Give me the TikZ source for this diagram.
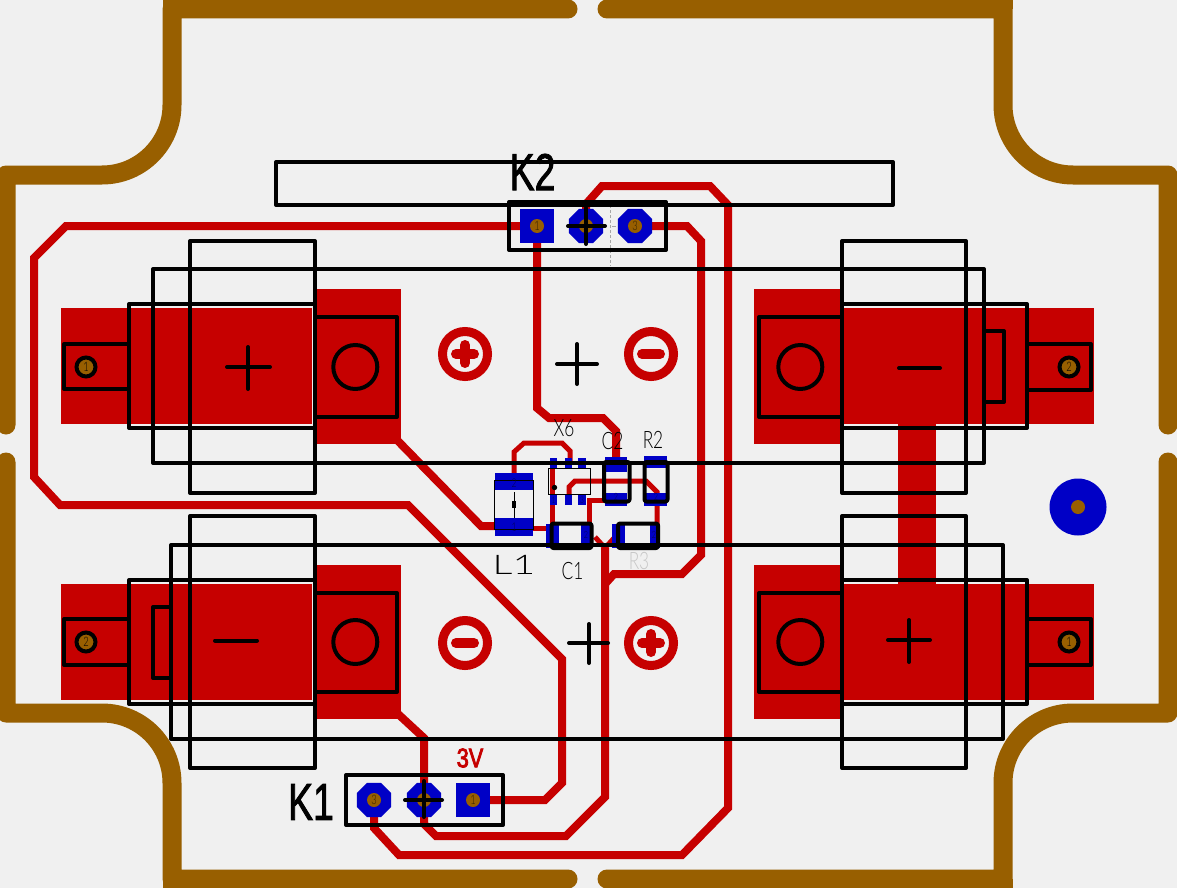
\documentclass[tikz,border=0pt]{standalone}
\usepackage{fontspec}
\setmainfont{Liberation Sans}
\newfontfamily\pcbfont[FakeStretch=0.72]{Lato Light}
\newfontfamily\pcbwide[FakeStretch=1.45]{Lato Light}
\newfontfamily\pcbbold[FakeStretch=0.72,FakeBold=1.6]{Liberation Sans}
\newfontfamily\pcbheavy[FakeStretch=0.8,FakeBold=3]{Liberation Sans}
\usetikzlibrary{shapes.geometric}
\definecolor{boardbg}{HTML}{F0F0F0}
\definecolor{copper}{HTML}{C60000}
\definecolor{padblue}{HTML}{0000C6}
\definecolor{edge}{HTML}{985F00}
\tikzset{
  edgeline/.style={draw=edge,line width=19pt,line cap=round,line join=round},
  trace/.style={draw=copper,line width=8pt,line join=miter},
  thintrace/.style={draw=copper,line width=5pt,line join=miter},
  silk/.style={draw=black,line width=4pt,line join=round,line cap=round},
  fine/.style={draw=black,line width=1pt},
  squarepad/.style={fill=padblue,draw=none,minimum size=34pt,inner sep=0pt,shape=rectangle},
  octpad/.style={fill=padblue,draw=none,minimum size=37pt,inner sep=0pt,shape=regular polygon,regular polygon sides=8},
  roundpad/.style={fill=padblue,draw=none,minimum size=57pt,inner sep=0pt,shape=circle},
  drill/.style={fill=edge,draw=none,minimum size=14pt,inner sep=0pt,shape=circle,text=black!70!edge,font=\pcbfont\fontsize{13}{13}\selectfont},
  ringdrill/.style={fill=edge,draw=black,line width=4pt,minimum size=19pt,inner sep=0pt,shape=circle,text=black,font=\pcbfont\fontsize{13}{13}\selectfont},
  txtlabel/.style={inner sep=0pt,text=black,font=\pcbfont\fontsize{24}{24}\selectfont},
  biglabel/.style={inner sep=0pt,text=black,font=\pcbbold\fontsize{52}{52}\selectfont},
  pinno/.style={inner sep=0pt,text=black!60!padblue,font=\pcbfont\fontsize{12}{12}\selectfont},
  symring/.style={draw=copper,line width=9pt,fill=none},
  symbar/.style={draw=copper,line width=10pt,line cap=round},
}
\newcommand\slkbox[4]{\draw[silk] (#1,#2) rectangle (#3,#4);}
\newcommand\rbox[5]{\fill[#1] (#2,#3) rectangle (#4,#5);}
\begin{document}
\begin{tikzpicture}[x=1pt,y=-1pt]
\useasboundingbox (0,0) rectangle (1177,888);
\fill[boardbg] (0,0) rectangle (1177,888);
\begin{scope}
\clip (0,0) rectangle (1177,888);
% board edge
\draw[edgeline] (568,9) -- (172,9) -- (172,105) arc[start angle=0,end angle=90,radius=70] -- (6,175) -- (6,425);
\draw[edgeline] (607,9) -- (1003,9) -- (1003,105) arc[start angle=180,end angle=90,radius=70] -- (1168,175) -- (1168,425);
\draw[edgeline] (6,462) -- (6,713) -- (102,713) arc[start angle=-90,end angle=0,radius=70] -- (172,879) -- (568,879);
\draw[edgeline] (1168,462) -- (1168,713) -- (1073,713) arc[start angle=-90,end angle=-180,radius=70] -- (1003,879) -- (607,879);
\rbox{edge}{162.5}{0}{172}{9}
\rbox{edge}{1003}{0}{1012.5}{9}
\rbox{edge}{162.5}{879}{172}{888}
\rbox{edge}{1003}{879}{1012.5}{888}
\end{scope}
% copper pours
\rbox{copper}{61}{308}{312}{424}
\rbox{copper}{317}{289}{401}{444}
\rbox{copper}{61}{584}{312}{700}
\rbox{copper}{317}{565}{401}{719}
\rbox{copper}{754}{289}{840}{444}
\rbox{copper}{844}{308}{1094}{424}
\rbox{copper}{754}{565}{840}{719}
\rbox{copper}{844}{584}{1094}{700}
\rbox{copper}{898}{424}{936}{584}
% connection points
\coordinate (k2a) at (537,226);
\coordinate (k2b) at (586,226);
\coordinate (k2c) at (635,226);
\coordinate (k1c) at (374,800);
\coordinate (k1b) at (424,800);
\coordinate (k1a) at (473,800);
% traces
\draw[trace] (k2a) -- (66,226) -- (34,258) -- (34,477) -- (60,505) -- (408,505) -- (562,659) -- (562,783) -- (545,800) -- (k1a);
\draw[trace] (k2a) -- (537,408) -- (549,418) -- (603,418) -- (616,431) -- (616,462);
\draw[trace] (k2b) -- (586,204) -- (602,186) -- (710,186) -- (728,205) -- (728,808) -- (682,855) -- (399,855) -- (374,828) -- (k1c);
\draw[trace] (k2c) -- (687,226) -- (701,241) -- (701,555) -- (682,574) -- (614,574) -- (605,584);
\draw[trace] (605,548) -- (605,797) -- (566,836) -- (436,836) -- (424,824) -- (k1b);
\draw[trace] (397,440) -- (481,526) -- (505,526);
\draw[trace] (397,713) -- (424,738) -- (k1b);
\draw[thintrace] (595,537) -- (605,548) -- (615,537);
\draw[thintrace] (514,478) -- (514,452) -- (524,443) -- (562,443) -- (570,451) -- (570,462);
\draw[thintrace] (525,528) -- (552,528);
\draw[thintrace] (552,468) -- (552,530);
\draw[thintrace] (569,498) -- (569,487) -- (575,481) -- (646,481) -- (657,492) -- (657,530);
\draw[thintrace] (607,500) -- (589,500) -- (589,530);
% SMD lands
\rbox{padblue}{495}{473}{533}{490}
\rbox{padblue}{495}{518}{533}{536}
\rbox{padblue}{550}{458}{557}{468}
\rbox{padblue}{565}{458}{572}{468}
\rbox{padblue}{578}{458}{586}{468}
\rbox{padblue}{550}{495}{557}{505}
\rbox{padblue}{565}{495}{572}{505}
\rbox{padblue}{578}{495}{586}{505}
\rbox{padblue}{605}{457}{627}{472}
\rbox{padblue}{605}{493}{627}{506}
\rbox{padblue}{644}{456}{667}{468}
\rbox{padblue}{644}{493}{667}{506}
\rbox{padblue}{546}{524}{559}{548}
\rbox{padblue}{581}{524}{593}{548}
\rbox{padblue}{612}{524}{625}{548}
\rbox{padblue}{650}{524}{660}{548}
% through-hole pads
\node[squarepad] (k2pa) at (k2a) {};
\node[octpad] (k2pb) at (k2b) {};
\node[octpad] (k2pc) at (k2c) {};
\node[squarepad] (k1pa) at (k1a) {};
\node[octpad] (k1pb) at (k1b) {};
\node[octpad] (k1pc) at (k1c) {};
\node[roundpad] (mount) at (1078,507) {};
\node[drill] (mountd) at (mount) {};
\node[drill] (k2da) at (k2pa) {1};
\node[drill] (k2db) at (k2pb) {2};
\node[drill] (k2dc) at (k2pc) {3};
\node[drill] (k1da) at (k1pa) {1};
\node[drill] (k1db) at (k1pb) {2};
\node[drill] (k1dc) at (k1pc) {3};
% polarity symbols
\draw[symring] (465,354) circle[radius=22.5];
\draw[symbar] (456,354) -- (474,354) (465,345) -- (465,363);
\draw[symring] (651,354) circle[radius=22.5];
\draw[symbar] (642,354) -- (660,354);
\draw[symring] (465,643) circle[radius=22.5];
\draw[symbar] (456,643) -- (474,643);
\draw[symring] (651,643) circle[radius=22.5];
\draw[symbar] (642,643) -- (660,643) (651,634) -- (651,652);
% gray guide
\draw[gray!70,line width=.7pt,densely dashed] (610.5,205) -- (610.5,266);
\draw[gray!70,line width=.7pt] (612,226) -- (616,226);
% top-left holder
\slkbox{190}{241}{315}{493}
\slkbox{129}{304}{315}{428}
\slkbox{64}{344}{129}{389}
\slkbox{315}{317}{397}{417}
\draw[silk] (355.3,367) circle[radius=22];
\draw[silk] (227,367) -- (270,367) (248,347) -- (248,389);
% top-right holder
\slkbox{842}{241}{966}{493}
\slkbox{842}{304}{1027}{428}
\slkbox{1027}{344}{1091}{390}
\slkbox{759}{317}{842}{417}
\slkbox{984}{331}{1004}{402}
\draw[silk] (800.3,367) circle[radius=22];
\draw[silk] (899,368) -- (940,368);
% bottom-left holder
\slkbox{190}{516}{315}{768}
\slkbox{129}{580}{315}{704}
\slkbox{64}{619}{129}{665}
\slkbox{315}{593}{397}{692}
\slkbox{153}{607}{171}{678}
\draw[silk] (355.3,642) circle[radius=22];
\draw[silk] (215,640.5) -- (257,640.5);
% bottom-right holder
\slkbox{842}{516}{966}{768}
\slkbox{842}{580}{1027}{704}
\slkbox{1027}{619}{1091}{665}
\slkbox{759}{593}{842}{692}
\draw[silk] (800.3,642) circle[radius=22];
\draw[silk] (888,640) -- (930,640) (909,620) -- (909,662);
% long outlines
\slkbox{153}{269}{984}{463}
\slkbox{171}{545}{1003}{739}
\slkbox{276}{162}{893}{205}
% free-standing plus signs
\draw[silk] (557,364) -- (597,364) (577,344) -- (577,384);
\draw[silk] (569,643) -- (608,643) (589,624) -- (589,663);
% connector outlines
\slkbox{509}{202}{666}{250}
\draw[silk] (568,226) -- (605,226) (586,208) -- (586,244);
\slkbox{346}{775}{503}{825}
\draw[silk] (405,800) -- (442,800) (424,781) -- (424,817);
% battery terminal holes
\node[ringdrill] (tla) at (86,367) {1};
\node[ringdrill] (tra) at (1069,367) {2};
\node[ringdrill] (bla) at (86,642) {2};
\node[ringdrill] (bra) at (1069,642) {1};
% components
\draw[fine] (494.5,480) rectangle (533,529);
\draw[fine] (514,492) -- (514,518);
\fill[black] (511.5,500.5) rectangle (516,507.5);
\node[pinno] (l1two) at (514,483) {2};
\node[pinno] (l1one) at (514,527) {1};
\draw[fine] (548,468) rectangle (590.5,494.5);
\fill[black] (554.5,487.5) circle[radius=2.7];
\node[pinno,font=\pcbfont\fontsize{9}{9}\selectfont] (x6one) at (553.5,500) {1};
\node[pinno,font=\pcbfont\fontsize{9}{9}\selectfont] (x6thr) at (582,500) {3};
\draw[silk,rounded corners=2pt] (604,462) rectangle (629.5,501.5);
\draw[silk,rounded corners=2pt] (644.5,462) rectangle (667.5,501.5);
\draw[silk,rounded corners=2pt] (551.5,523.5) rectangle (591.5,548);
\draw[silk,rounded corners=2pt] (618,523.5) rectangle (658,548);
\node[pinno,font=\pcbfont\fontsize{10}{10}\selectfont] (ctwo) at (616,497) {2};
\node[pinno,font=\pcbfont\fontsize{10}{10}\selectfont] (rtwo) at (656,497) {2};
\node[pinno,font=\pcbfont\fontsize{10}{10}\selectfont] (cone) at (586,535) {2};
\node[pinno,font=\pcbfont\fontsize{10}{10}\selectfont] (rthr) at (654,535) {2};
% labels
\node[biglabel] (k2text) at (532.5,172) {K2};
\node[biglabel] (k1text) at (311,802) {K1};
\node[inner sep=0pt,text=copper,font=\pcbheavy\fontsize{27}{27}\selectfont] (volt) at (470,758) {3V};
\node[txtlabel,font=\pcbwide\fontsize{27}{27}\selectfont] (l1text) at (514,565) {L1};
\node[txtlabel] (x6text) at (564,428) {X6};
\node[txtlabel] (c2text) at (612.5,441) {C2};
\node[txtlabel] (r2text) at (653,440) {R2};
\node[txtlabel] (c1text) at (572.5,571) {C1};
\node[txtlabel,text=black!22] (r3text) at (639,561) {R3};
\end{tikzpicture}
\end{document}
